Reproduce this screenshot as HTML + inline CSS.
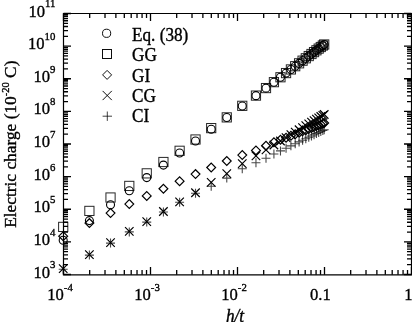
<!DOCTYPE html>
<html><head><meta charset="utf-8"><style>html,body{margin:0;padding:0;background:#fff;}svg{display:block;will-change:transform;}text{font-family:"Liberation Serif",serif;}</style></head>
<body><svg width="412" height="322" viewBox="0 0 412 322" font-family="Liberation Serif, serif" fill="#000"><path d="M63.50 274.85v-7.85M63.50 13.5v7.5M89.69 274.85v-4.85M89.69 13.5v4.5M105.01 274.85v-4.85M105.01 13.5v4.5M115.88 274.85v-4.85M115.88 13.5v4.5M124.31 274.85v-4.85M124.31 13.5v4.5M131.20 274.85v-4.85M131.20 13.5v4.5M137.02 274.85v-4.85M137.02 13.5v4.5M142.07 274.85v-4.85M142.07 13.5v4.5M146.52 274.85v-4.85M146.52 13.5v4.5M150.50 274.85v-7.85M150.50 13.5v7.5M176.69 274.85v-4.85M176.69 13.5v4.5M192.01 274.85v-4.85M192.01 13.5v4.5M202.88 274.85v-4.85M202.88 13.5v4.5M211.31 274.85v-4.85M211.31 13.5v4.5M218.20 274.85v-4.85M218.20 13.5v4.5M224.02 274.85v-4.85M224.02 13.5v4.5M229.07 274.85v-4.85M229.07 13.5v4.5M233.52 274.85v-4.85M233.52 13.5v4.5M237.50 274.85v-7.85M237.50 13.5v7.5M263.69 274.85v-4.85M263.69 13.5v4.5M279.01 274.85v-4.85M279.01 13.5v4.5M289.88 274.85v-4.85M289.88 13.5v4.5M298.31 274.85v-4.85M298.31 13.5v4.5M305.20 274.85v-4.85M305.20 13.5v4.5M311.02 274.85v-4.85M311.02 13.5v4.5M316.07 274.85v-4.85M316.07 13.5v4.5M320.52 274.85v-4.85M320.52 13.5v4.5M324.50 274.85v-7.85M324.50 13.5v7.5M350.69 274.85v-4.85M350.69 13.5v4.5M366.01 274.85v-4.85M366.01 13.5v4.5M376.88 274.85v-4.85M376.88 13.5v4.5M385.31 274.85v-4.85M385.31 13.5v4.5M392.20 274.85v-4.85M392.20 13.5v4.5M398.02 274.85v-4.85M398.02 13.5v4.5M403.07 274.85v-4.85M403.07 13.5v4.5M407.52 274.85v-4.85M407.52 13.5v4.5M411.50 274.85v-7.85M411.50 13.5v7.5M63.5 274.50h7.5M411.5 274.50h-7.5M63.5 264.68h4.5M411.5 264.68h-4.5M63.5 258.93h4.5M411.5 258.93h-4.5M63.5 254.86h4.5M411.5 254.86h-4.5M63.5 251.70h4.5M411.5 251.70h-4.5M63.5 249.11h4.5M411.5 249.11h-4.5M63.5 246.93h4.5M411.5 246.93h-4.5M63.5 245.04h4.5M411.5 245.04h-4.5M63.5 243.37h4.5M411.5 243.37h-4.5M63.5 241.88h7.5M411.5 241.88h-7.5M63.5 232.05h4.5M411.5 232.05h-4.5M63.5 226.31h4.5M411.5 226.31h-4.5M63.5 222.23h4.5M411.5 222.23h-4.5M63.5 219.07h4.5M411.5 219.07h-4.5M63.5 216.49h4.5M411.5 216.49h-4.5M63.5 214.30h4.5M411.5 214.30h-4.5M63.5 212.41h4.5M411.5 212.41h-4.5M63.5 210.74h4.5M411.5 210.74h-4.5M63.5 209.25h7.5M411.5 209.25h-7.5M63.5 199.43h4.5M411.5 199.43h-4.5M63.5 193.68h4.5M411.5 193.68h-4.5M63.5 189.61h4.5M411.5 189.61h-4.5M63.5 186.45h4.5M411.5 186.45h-4.5M63.5 183.86h4.5M411.5 183.86h-4.5M63.5 181.68h4.5M411.5 181.68h-4.5M63.5 179.79h4.5M411.5 179.79h-4.5M63.5 178.12h4.5M411.5 178.12h-4.5M63.5 176.62h7.5M411.5 176.62h-7.5M63.5 166.80h4.5M411.5 166.80h-4.5M63.5 161.06h4.5M411.5 161.06h-4.5M63.5 156.98h4.5M411.5 156.98h-4.5M63.5 153.82h4.5M411.5 153.82h-4.5M63.5 151.24h4.5M411.5 151.24h-4.5M63.5 149.05h4.5M411.5 149.05h-4.5M63.5 147.16h4.5M411.5 147.16h-4.5M63.5 145.49h4.5M411.5 145.49h-4.5M63.5 144.00h7.5M411.5 144.00h-7.5M63.5 134.18h4.5M411.5 134.18h-4.5M63.5 128.43h4.5M411.5 128.43h-4.5M63.5 124.36h4.5M411.5 124.36h-4.5M63.5 121.20h4.5M411.5 121.20h-4.5M63.5 118.61h4.5M411.5 118.61h-4.5M63.5 116.43h4.5M411.5 116.43h-4.5M63.5 114.54h4.5M411.5 114.54h-4.5M63.5 112.87h4.5M411.5 112.87h-4.5M63.5 111.38h7.5M411.5 111.38h-7.5M63.5 101.55h4.5M411.5 101.55h-4.5M63.5 95.81h4.5M411.5 95.81h-4.5M63.5 91.73h4.5M411.5 91.73h-4.5M63.5 88.57h4.5M411.5 88.57h-4.5M63.5 85.99h4.5M411.5 85.99h-4.5M63.5 83.80h4.5M411.5 83.80h-4.5M63.5 81.91h4.5M411.5 81.91h-4.5M63.5 80.24h4.5M411.5 80.24h-4.5M63.5 78.75h7.5M411.5 78.75h-7.5M63.5 68.93h4.5M411.5 68.93h-4.5M63.5 63.18h4.5M411.5 63.18h-4.5M63.5 59.11h4.5M411.5 59.11h-4.5M63.5 55.95h4.5M411.5 55.95h-4.5M63.5 53.36h4.5M411.5 53.36h-4.5M63.5 51.18h4.5M411.5 51.18h-4.5M63.5 49.29h4.5M411.5 49.29h-4.5M63.5 47.62h4.5M411.5 47.62h-4.5M63.5 46.12h7.5M411.5 46.12h-7.5M63.5 36.30h4.5M411.5 36.30h-4.5M63.5 30.56h4.5M411.5 30.56h-4.5M63.5 26.48h4.5M411.5 26.48h-4.5M63.5 23.32h4.5M411.5 23.32h-4.5M63.5 20.74h4.5M411.5 20.74h-4.5M63.5 18.55h4.5M411.5 18.55h-4.5M63.5 16.66h4.5M411.5 16.66h-4.5M63.5 14.99h4.5M411.5 14.99h-4.5M63.5 13.50h7.5M411.5 13.50h-7.5" stroke="#000" stroke-width="1.3" fill="none"/><path d="M63.5 274.85V13.5H411.5V274.85" stroke="#000" stroke-width="1.2" fill="none"/><path d="M62.9 274.85H412.1" stroke="#000" stroke-width="1.4" fill="none"/><g stroke="#000" stroke-opacity="0.72" stroke-width="1.1" fill="none"><path d="M58.70 269.18L67.70 269.18M63.20 264.68L63.20 273.68"/><path d="M84.89 255.09L93.89 255.09M89.39 250.59L89.39 259.59"/><path d="M106.03 243.08L115.03 243.08M110.53 238.58L110.53 247.58"/><path d="M124.79 231.89L133.79 231.89M129.29 227.39L129.29 236.39"/><path d="M142.24 222.10L151.24 222.10M146.74 217.60L146.74 226.60"/><path d="M158.92 211.99L167.92 211.99M163.42 207.49L163.42 216.49"/><path d="M175.11 202.30L184.11 202.30M179.61 197.80L179.61 206.80"/><path d="M191.01 193.20L200.01 193.20M195.51 188.70L195.51 197.70"/><path d="M206.70 186.18L215.70 186.18M211.20 181.68L211.20 190.68"/><path d="M222.27 178.09L231.27 178.09M226.77 173.59L226.77 182.59"/><path d="M237.76 168.79L246.76 168.79M242.26 164.29L242.26 173.29"/><path d="M251.46 162.69L260.46 162.69M255.96 158.19L255.96 167.19"/><path d="M261.50 158.29L270.50 158.29M266.00 153.79L266.00 162.79"/><path d="M269.42 153.98L278.42 153.98M273.92 149.48L273.92 158.48"/><path d="M275.97 150.88L284.97 150.88M280.47 146.38L280.47 155.38"/><path d="M281.55 148.20L290.55 148.20M286.05 143.70L286.05 152.70"/><path d="M286.41 145.85L295.41 145.85M290.91 141.35L290.91 150.35"/><path d="M290.71 143.78L299.71 143.78M295.21 139.28L295.21 148.28"/><path d="M294.58 141.92L303.58 141.92M299.08 137.42L299.08 146.42"/><path d="M298.08 140.23L307.08 140.23M302.58 135.73L302.58 144.73"/><path d="M301.29 138.68L310.29 138.68M305.79 134.18L305.79 143.18"/><path d="M304.25 137.26L313.25 137.26M308.75 132.76L308.75 141.76"/><path d="M306.99 135.93L315.99 135.93M311.49 131.43L311.49 140.43"/><path d="M309.54 134.70L318.54 134.70M314.04 130.20L314.04 139.20"/><path d="M311.94 133.55L320.94 133.55M316.44 129.05L316.44 138.05"/><path d="M314.19 132.46L323.19 132.46M318.69 127.96L318.69 136.96"/><path d="M316.31 131.44L325.31 131.44M320.81 126.94L320.81 135.94"/><path d="M318.33 130.47L327.33 130.47M322.83 125.97L322.83 134.97"/><path d="M319.70 129.81L328.70 129.81M324.20 125.31L324.20 134.31"/></g><g stroke="#000" stroke-width="1.0" stroke-opacity="0.85" fill="none"><rect x="58.60" y="222.30" width="9.20" height="9.20"/><rect x="84.79" y="206.31" width="9.20" height="9.20"/><rect x="105.93" y="192.91" width="9.20" height="9.20"/><rect x="124.69" y="181.32" width="9.20" height="9.20"/><rect x="142.14" y="168.76" width="9.20" height="9.20"/><rect x="158.82" y="157.41" width="9.20" height="9.20"/><rect x="175.01" y="146.19" width="9.20" height="9.20"/><rect x="190.91" y="134.90" width="9.20" height="9.20"/><rect x="206.60" y="123.51" width="9.20" height="9.20"/><rect x="222.17" y="112.78" width="9.20" height="9.20"/><rect x="237.66" y="101.23" width="9.20" height="9.20"/><rect x="251.36" y="90.99" width="9.20" height="9.20"/><rect x="261.40" y="83.48" width="9.20" height="9.20"/><rect x="269.32" y="77.55" width="9.20" height="9.20"/><rect x="275.87" y="72.65" width="9.20" height="9.20"/><rect x="281.45" y="68.47" width="9.20" height="9.20"/><rect x="286.31" y="64.83" width="9.20" height="9.20"/><rect x="290.61" y="61.60" width="9.20" height="9.20"/><rect x="294.48" y="58.71" width="9.20" height="9.20"/><rect x="297.98" y="56.08" width="9.20" height="9.20"/><rect x="301.19" y="53.68" width="9.20" height="9.20"/><rect x="304.15" y="51.46" width="9.20" height="9.20"/><rect x="306.89" y="49.41" width="9.20" height="9.20"/><rect x="309.44" y="47.49" width="9.20" height="9.20"/><rect x="311.84" y="45.70" width="9.20" height="9.20"/><rect x="314.09" y="44.01" width="9.20" height="9.20"/><rect x="316.21" y="42.42" width="9.20" height="9.20"/><rect x="318.23" y="40.91" width="9.20" height="9.20"/><rect x="319.60" y="39.88" width="9.20" height="9.20"/></g><g stroke="#000" stroke-width="1.1" fill="none"><circle cx="63.20" cy="240.24" r="4.0"/><circle cx="89.39" cy="220.60" r="4.0"/><circle cx="110.53" cy="204.74" r="4.0"/><circle cx="129.29" cy="190.68" r="4.0"/><circle cx="146.74" cy="177.59" r="4.0"/><circle cx="163.42" cy="165.08" r="4.0"/><circle cx="179.61" cy="152.93" r="4.0"/><circle cx="195.51" cy="141.01" r="4.0"/><circle cx="211.20" cy="129.24" r="4.0"/><circle cx="226.77" cy="117.56" r="4.0"/><circle cx="242.26" cy="105.95" r="4.0"/><circle cx="255.96" cy="95.67" r="4.0"/><circle cx="266.00" cy="88.14" r="4.0"/><circle cx="273.92" cy="82.20" r="4.0"/><circle cx="280.47" cy="77.29" r="4.0"/><circle cx="286.05" cy="73.11" r="4.0"/><circle cx="290.91" cy="69.46" r="4.0"/><circle cx="295.21" cy="66.24" r="4.0"/><circle cx="299.08" cy="63.34" r="4.0"/><circle cx="302.58" cy="60.71" r="4.0"/><circle cx="305.79" cy="58.30" r="4.0"/><circle cx="308.75" cy="56.08" r="4.0"/><circle cx="311.49" cy="54.03" r="4.0"/><circle cx="314.04" cy="52.11" r="4.0"/><circle cx="316.44" cy="50.32" r="4.0"/><circle cx="318.69" cy="48.63" r="4.0"/><circle cx="320.81" cy="47.03" r="4.0"/><circle cx="322.83" cy="45.52" r="4.0"/><circle cx="324.20" cy="44.49" r="4.0"/></g><g stroke="#000" stroke-width="1.2" fill="none"><path d="M58.80 236.20L63.20 231.80L67.60 236.20L63.20 240.60Z"/><path d="M58.95 264.44L67.45 272.94M58.95 272.94L67.45 264.44"/><path d="M84.99 223.12L89.39 218.72L93.79 223.12L89.39 227.52Z"/><path d="M85.14 250.35L93.64 258.85M85.14 258.85L93.64 250.35"/><path d="M106.13 213.10L110.53 208.70L114.93 213.10L110.53 217.50Z"/><path d="M106.28 238.34L114.78 246.84M106.28 246.84L114.78 238.34"/><path d="M124.89 204.10L129.29 199.70L133.69 204.10L129.29 208.50Z"/><path d="M125.04 227.15L133.54 235.65M125.04 235.65L133.54 227.15"/><path d="M142.34 195.91L146.74 191.51L151.14 195.91L146.74 200.31Z"/><path d="M142.49 217.36L150.99 225.86M142.49 225.86L150.99 217.36"/><path d="M159.02 188.79L163.42 184.39L167.82 188.79L163.42 193.19Z"/><path d="M159.17 207.25L167.67 215.75M159.17 215.75L167.67 207.25"/><path d="M175.21 181.19L179.61 176.79L184.01 181.19L179.61 185.59Z"/><path d="M175.36 197.56L183.86 206.06M175.36 206.06L183.86 197.56"/><path d="M191.11 174.11L195.51 169.71L199.91 174.11L195.51 178.51Z"/><path d="M191.26 188.46L199.76 196.96M191.26 196.96L199.76 188.46"/><path d="M206.80 167.49L211.20 163.09L215.60 167.49L211.20 171.89Z"/><path d="M206.95 178.05L215.45 186.55M206.95 186.55L215.45 178.05"/><path d="M222.37 161.00L226.77 156.60L231.17 161.00L226.77 165.40Z"/><path d="M222.52 169.44L231.02 177.94M222.52 177.94L231.02 169.44"/><path d="M237.86 155.09L242.26 150.69L246.66 155.09L242.26 159.49Z"/><path d="M238.01 159.36L246.51 167.86M238.01 167.86L246.51 159.36"/><path d="M251.56 150.39L255.96 145.99L260.36 150.39L255.96 154.79Z"/><path d="M251.71 151.66L260.21 160.16M251.71 160.16L260.21 151.66"/><path d="M261.60 145.79L266.00 141.39L270.40 145.79L266.00 150.19Z"/><path d="M261.75 145.56L270.25 154.06M261.75 154.06L270.25 145.56"/><path d="M269.52 142.30L273.92 137.90L278.32 142.30L273.92 146.70Z"/><path d="M269.67 140.75L278.17 149.25M269.67 149.25L278.17 140.75"/><path d="M276.07 139.79L280.47 135.39L284.87 139.79L280.47 144.19Z"/><path d="M276.22 136.78L284.72 145.28M276.22 145.28L284.72 136.78"/><path d="M281.65 137.66L286.05 133.26L290.45 137.66L286.05 142.06Z"/><path d="M281.80 133.39L290.30 141.89M281.80 141.89L290.30 133.39"/><path d="M286.51 135.81L290.91 131.41L295.31 135.81L290.91 140.21Z"/><path d="M286.66 130.44L295.16 138.94M286.66 138.94L295.16 130.44"/><path d="M290.81 134.17L295.21 129.77L299.61 134.17L295.21 138.57Z"/><path d="M290.96 127.83L299.46 136.33M290.96 136.33L299.46 127.83"/><path d="M294.68 132.70L299.08 128.30L303.48 132.70L299.08 137.10Z"/><path d="M294.83 125.48L303.33 133.98M294.83 133.98L303.33 125.48"/><path d="M298.18 131.36L302.58 126.96L306.98 131.36L302.58 135.76Z"/><path d="M298.33 123.35L306.83 131.85M298.33 131.85L306.83 123.35"/><path d="M301.39 130.14L305.79 125.74L310.19 130.14L305.79 134.54Z"/><path d="M301.54 121.40L310.04 129.90M301.54 129.90L310.04 121.40"/><path d="M304.35 129.01L308.75 124.61L313.15 129.01L308.75 133.41Z"/><path d="M304.50 119.61L313.00 128.11M304.50 128.11L313.00 119.61"/><path d="M307.09 127.97L311.49 123.57L315.89 127.97L311.49 132.37Z"/><path d="M307.24 117.94L315.74 126.44M307.24 126.44L315.74 117.94"/><path d="M309.64 126.99L314.04 122.59L318.44 126.99L314.04 131.39Z"/><path d="M309.79 116.39L318.29 124.89M309.79 124.89L318.29 116.39"/><path d="M312.04 126.08L316.44 121.68L320.84 126.08L316.44 130.48Z"/><path d="M312.19 114.94L320.69 123.44M312.19 123.44L320.69 114.94"/><path d="M314.29 125.22L318.69 120.82L323.09 125.22L318.69 129.62Z"/><path d="M314.44 113.57L322.94 122.07M314.44 122.07L322.94 113.57"/><path d="M316.41 124.41L320.81 120.01L325.21 124.41L320.81 128.81Z"/><path d="M316.56 112.28L325.06 120.78M316.56 120.78L325.06 112.28"/><path d="M318.43 123.64L322.83 119.24L327.23 123.64L322.83 128.04Z"/><path d="M318.58 111.06L327.08 119.56M318.58 119.56L327.08 111.06"/><path d="M319.80 123.12L324.20 118.72L328.60 123.12L324.20 127.52Z"/><path d="M319.95 110.22L328.45 118.72M319.95 118.72L328.45 110.22"/></g><g stroke="#000" stroke-width="0.95" fill="none"><circle cx="106.60" cy="33.30" r="4.1"/><rect x="102.50" y="49.50" width="9.00" height="9.00"/><path d="M102.60 74.90L107.10 70.40L111.60 74.90L107.10 79.40Z"/><path d="M102.60 90.90L111.80 100.10M102.60 100.10L111.80 90.90"/></g><g stroke="#000" stroke-opacity="0.75" stroke-width="1.0" fill="none"><path d="M102.60 116.20L112.00 116.20M107.30 111.50L107.30 120.90"/></g><text transform="translate(132,40.5) scale(1,1.05)" font-size="17.2" stroke="#000" stroke-width="0.35">Eq. (38)</text><text transform="translate(132,61.1) scale(1,1.05)" font-size="17.2" stroke="#000" stroke-width="0.35">GG</text><text transform="translate(132,81.5) scale(1,1.05)" font-size="17.2" stroke="#000" stroke-width="0.35">GI</text><text transform="translate(132,101.9) scale(1,1.05)" font-size="17.2" stroke="#000" stroke-width="0.35">CG</text><text transform="translate(132,122.3) scale(1,1.05)" font-size="17.2" stroke="#000" stroke-width="0.35">CI</text><text transform="translate(47.2,299.6) scale(1,1.055)" font-size="16.6" stroke="#000" stroke-width="0.35">10<tspan dy="-8.0" font-size="10.8">-4</tspan></text><text transform="translate(134.2,299.6) scale(1,1.055)" font-size="16.6" stroke="#000" stroke-width="0.35">10<tspan dy="-8.0" font-size="10.8">-3</tspan></text><text transform="translate(221.2,299.6) scale(1,1.055)" font-size="16.6" stroke="#000" stroke-width="0.35">10<tspan dy="-8.0" font-size="10.8">-2</tspan></text><text transform="translate(310.0,299.6) scale(1,1.055)" font-size="16.6" stroke="#000" stroke-width="0.35">0.1</text><text transform="translate(404.3,299.6) scale(1,1.055)" font-size="16.6" stroke="#000" stroke-width="0.35">1</text><text transform="translate(235,322.4) scale(1,1.09)" font-size="17.2" font-style="italic" text-anchor="middle" stroke="#000" stroke-width="0.35">h/t</text><text transform="translate(55.4,277.50) scale(1,1.055)" font-size="16.6" text-anchor="end" stroke="#000" stroke-width="0.35">10<tspan dy="-8.6" font-size="10.8">3</tspan></text><text transform="translate(55.4,244.88) scale(1,1.055)" font-size="16.6" text-anchor="end" stroke="#000" stroke-width="0.35">10<tspan dy="-8.6" font-size="10.8">4</tspan></text><text transform="translate(55.4,212.25) scale(1,1.055)" font-size="16.6" text-anchor="end" stroke="#000" stroke-width="0.35">10<tspan dy="-8.6" font-size="10.8">5</tspan></text><text transform="translate(55.4,179.62) scale(1,1.055)" font-size="16.6" text-anchor="end" stroke="#000" stroke-width="0.35">10<tspan dy="-8.6" font-size="10.8">6</tspan></text><text transform="translate(55.4,147.00) scale(1,1.055)" font-size="16.6" text-anchor="end" stroke="#000" stroke-width="0.35">10<tspan dy="-8.6" font-size="10.8">7</tspan></text><text transform="translate(55.4,114.38) scale(1,1.055)" font-size="16.6" text-anchor="end" stroke="#000" stroke-width="0.35">10<tspan dy="-8.6" font-size="10.8">8</tspan></text><text transform="translate(55.4,81.75) scale(1,1.055)" font-size="16.6" text-anchor="end" stroke="#000" stroke-width="0.35">10<tspan dy="-8.6" font-size="10.8">9</tspan></text><text transform="translate(55.4,49.12) scale(1,1.055)" font-size="16.6" text-anchor="end" stroke="#000" stroke-width="0.35">10<tspan dy="-8.6" font-size="10.8">10</tspan></text><text transform="translate(55.4,16.50) scale(1,1.055)" font-size="16.6" text-anchor="end" stroke="#000" stroke-width="0.35">10<tspan dy="-8.6" font-size="10.8">11</tspan></text><text transform="translate(16.0,144.2) rotate(-90)" text-anchor="middle" font-size="17.35" stroke="#000" stroke-width="0.35">Electric charge (10<tspan dy="-7.2" font-size="10.5">-20</tspan><tspan dy="7.2"> C)</tspan></text></svg></body></html>
